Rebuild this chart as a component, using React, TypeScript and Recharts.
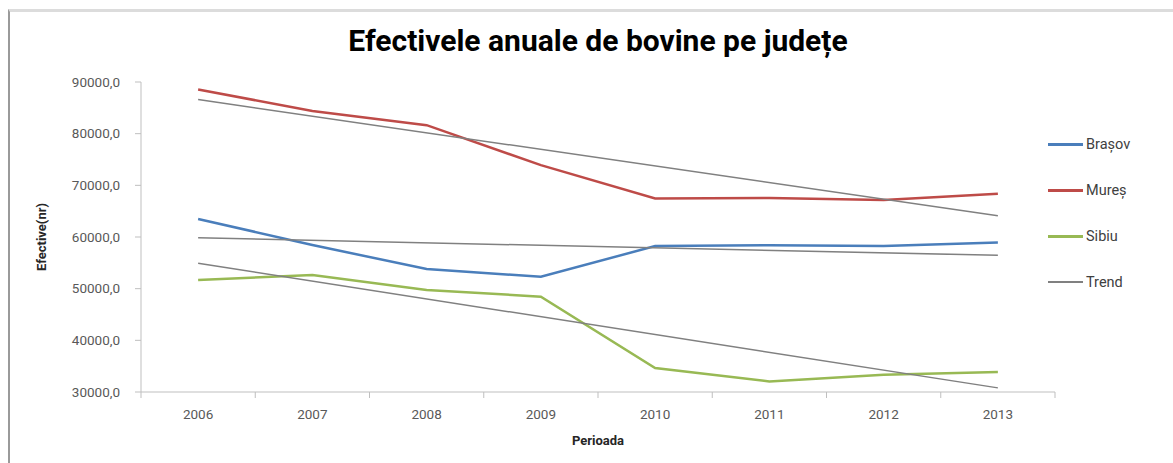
import React from "react";
import { Legend, Line, LineChart, XAxis, YAxis } from "recharts";

const years = ["2006", "2007", "2008", "2009", "2010", "2011", "2012", "2013"];
const brasov = [63500, 58450, 53800, 52300, 58250, 58400, 58250, 58950];
const mures = [88550, 84400, 81650, 73900, 67450, 67550, 67150, 68350];
const sibiu = [51700, 52650, 49750, 48450, 34650, 32050, 33350, 33850];
// trend lines: only the end points, joined straight
const trendMures = [86600, null, null, null, null, null, null, 64100];
const trendBrasov = [59850, null, null, null, null, null, null, 56450];
const trendSibiu = [54900, null, null, null, null, null, null, 30800];
const yTicks = [30000, 40000, 50000, 60000, 70000, 80000, 90000];

const W = 1173;
const H = 463;
const PLOT_LEFT = 141;
const PLOT_RIGHT = 1055;
const STEP = (PLOT_RIGHT - PLOT_LEFT) / years.length;

const data = years.map((year, i) => ({
  year,
  brasov: brasov[i],
  mures: mures[i],
  sibiu: sibiu[i],
  trendMures: trendMures[i],
  trendBrasov: trendBrasov[i],
  trendSibiu: trendSibiu[i],
}));

const FONT = "Roboto, 'Noto Sans', sans-serif";

function XTick(props: any) {
  const { x, y, payload, index } = props;
  return (
    <g>
      <line x1={x - STEP / 2} x2={x - STEP / 2} y1={y} y2={y + 6} stroke="#bfbfbf" />
      {index === years.length - 1 && (
        <line x1={x + STEP / 2} x2={x + STEP / 2} y1={y} y2={y + 6} stroke="#bfbfbf" />
      )}
      <text x={x} y={y + 27} textAnchor="middle" fill="#595959" fontSize={13.5} fontFamily={FONT}>
        {payload.value}
      </text>
    </g>
  );
}

function LegendBox({ payload }: any) {
  const items = (payload || []).filter((p: any) => p.type !== "none");
  return (
    <div style={{ fontFamily: FONT, fontSize: 14.5, color: "#404040" }}>
      {items.map((p: any) => (
        <div key={p.value} style={{ display: "flex", alignItems: "center", height: 46 }}>
          <span
            style={{
              display: "inline-block",
              width: 35,
              height: p.value === "Trend" ? 2 : 3,
              background: p.color,
            }}
          />
          <span style={{ marginLeft: 3 }}>{p.value}</span>
        </div>
      ))}
    </div>
  );
}

export default function App() {
  return (
    <div style={{ position: "absolute", left: 0, top: 0, width: W, height: H, background: "#fff" }}>
      <div
        style={{
          position: "absolute",
          left: 8,
          top: 9,
          width: W - 10,
          height: H - 11,
          borderLeft: "2px solid #9a9a9a",
          borderTop: "3px solid #dcdcdc",
        }}
      />
      <div
        style={{
          position: "absolute",
          left: PLOT_LEFT,
          width: PLOT_RIGHT - PLOT_LEFT,
          top: 23,
          textAlign: "center",
          fontFamily: FONT,
          fontWeight: 700,
          fontSize: 30,
          lineHeight: "36px",
          color: "#000",
        }}
      >
        Efectivele anuale de bovine pe județe
      </div>
      <LineChart
        width={W}
        height={H}
        data={data}
        margin={{ top: 82, right: W - PLOT_RIGHT, bottom: 0, left: 0 }}
        style={{ position: "absolute", left: 0, top: 0 }}
      >
        <XAxis
          dataKey="year"
          height={71}
          padding={{ left: STEP / 2, right: STEP / 2 }}
          tickLine={false}
          tickSize={0}
          tickMargin={0}
          axisLine={{ stroke: "#bfbfbf" }}
          tick={<XTick />}
          interval={0}
          label={{
            value: "Perioada",
            position: "insideBottom",
            offset: 18,
            fontFamily: FONT,
            fontWeight: 700,
            fontSize: 13,
            fill: "#262626",
          }}
        />
        <YAxis
          width={PLOT_LEFT}
          domain={[30000, 90000]}
          ticks={yTicks}
          interval={0}
          tickSize={6}
          tickMargin={15}
          axisLine={{ stroke: "#bfbfbf" }}
          tickLine={{ stroke: "#bfbfbf" }}
          tick={{ fill: "#595959", fontSize: 13.5, fontFamily: FONT }}
          tickFormatter={(v) => v.toFixed(1).replace(".", ",")}
          label={{
            value: "Efective(nr)",
            angle: -90,
            position: "center",
            dx: 41 - PLOT_LEFT / 2,
            fontFamily: FONT,
            fontWeight: 700,
            fontSize: 13,
            fill: "#262626",
          }}
        />
        <Legend
          layout="vertical"
          align="center"
          verticalAlign="middle"
          content={<LegendBox />}
          wrapperStyle={{ left: 1048, top: 121, width: 120 }}
        />
        <Line dataKey="brasov" name="Brașov" stroke="#4a7ebb" strokeWidth={2.5} dot={false} isAnimationActive={false} />
        <Line dataKey="mures" name="Mureș" stroke="#be4b48" strokeWidth={2.5} dot={false} isAnimationActive={false} />
        <Line dataKey="sibiu" name="Sibiu" stroke="#98b954" strokeWidth={2.5} dot={false} isAnimationActive={false} />
        <Line dataKey="trendMures" name="Trend" stroke="#808080" strokeWidth={1.5} dot={false} connectNulls isAnimationActive={false} />
        <Line dataKey="trendBrasov" name="Trend " legendType="none" stroke="#808080" strokeWidth={1.5} dot={false} connectNulls isAnimationActive={false} />
        <Line dataKey="trendSibiu" name="Trend  " legendType="none" stroke="#808080" strokeWidth={1.5} dot={false} connectNulls isAnimationActive={false} />
      </LineChart>
    </div>
  );
}
